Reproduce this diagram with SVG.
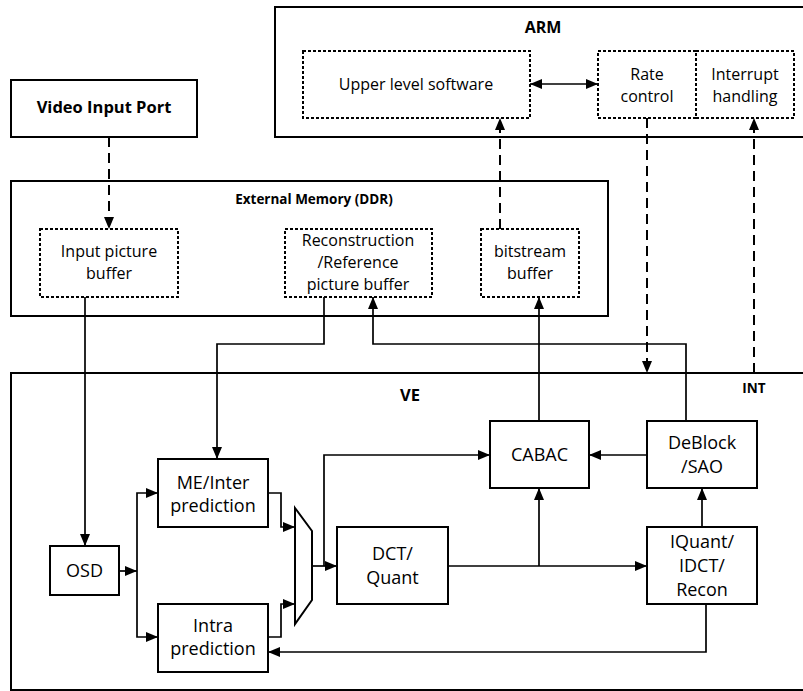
<svg xmlns="http://www.w3.org/2000/svg" width="803" height="691" viewBox="0 0 803 691">
<style>
.box{fill:#fff;stroke:#000;stroke-width:2}
.cont{fill:none;stroke:#000;stroke-width:2}
.dot{fill:#fff;stroke:#000;stroke-width:2;stroke-dasharray:3 2}
.ln{fill:none;stroke:#000;stroke-width:1.7}
.dash{fill:none;stroke:#000;stroke-width:2;stroke-dasharray:10 6}
text{font-family:"Open Sans","Liberation Sans",sans-serif;fill:#000;text-anchor:middle}
.t18{font-size:18px}
.t16{font-size:16px}
.b{font-weight:bold}
</style>
<defs>
<marker id="ah" viewBox="0 0 12 10" refX="12" refY="5" markerWidth="12" markerHeight="10" markerUnits="userSpaceOnUse" orient="auto-start-reverse"><path d="M0,0 L12,5 L0,10 z" fill="#000"/></marker>
</defs>
<rect width="803" height="691" fill="#fff"/>

<g id="containers">
<rect class="cont" x="275" y="7" width="540" height="130"/>
<text class="b" x="543" y="33" font-size="16">ARM</text>
<rect class="cont" x="11" y="181" width="597" height="135"/>
<text class="b" x="314" y="204" font-size="13.5">External Memory (DDR)</text>
<rect class="cont" x="11" y="373" width="804" height="317"/>
<text class="b" x="410" y="401" font-size="16.5">VE</text>
<text class="b" x="754" y="393" font-size="13.5">INT</text>
</g>

<g id="video-input-port">
<rect class="box" x="11" y="80" width="186" height="57"/>
<text class="b" x="104" y="113" font-size="16.5">Video Input Port</text>
</g>

<g id="upper-level-software">
<rect class="dot" x="303" y="51" width="227" height="67"/>
<text class="t16" x="416" y="90">Upper level software</text>
</g>
<g id="rate-control">
<rect class="dot" x="598" y="51" width="98" height="67"/>
<text class="t16" x="647" y="80">Rate</text>
<text class="t16" x="647" y="102">control</text>
</g>
<g id="interrupt-handling">
<rect class="dot" x="696" y="51" width="98" height="67"/>
<text class="t16" x="745" y="80">Interrupt</text>
<text class="t16" x="745" y="102">handling</text>
</g>

<g id="input-picture-buffer">
<rect class="dot" x="40" y="229" width="138" height="68"/>
<text class="t16" x="109" y="257">Input picture</text>
<text class="t16" x="109" y="279">buffer</text>
</g>
<g id="reconstruction-buffer">
<rect class="dot" x="285" y="229" width="147" height="68"/>
<text class="t16" x="358" y="246">Reconstruction</text>
<text class="t16" x="358" y="268">/Reference</text>
<text class="t16" x="358" y="290">picture buffer</text>
</g>
<g id="bitstream-buffer">
<rect class="dot" x="481" y="229" width="98" height="68"/>
<text class="t16" x="530" y="257">bitstream</text>
<text class="t16" x="530" y="279">buffer</text>
</g>

<g id="osd">
<rect class="box" x="50" y="546" width="69" height="49"/>
<text class="t18" x="84.5" y="577">OSD</text>
</g>
<g id="me-inter">
<rect class="box" x="158" y="459" width="110" height="68"/>
<text class="t18" x="213" y="489">ME/Inter</text>
<text class="t18" x="213" y="512">prediction</text>
</g>
<g id="intra">
<rect class="box" x="158" y="604" width="110" height="68"/>
<text class="t18" x="213" y="632">Intra</text>
<text class="t18" x="213" y="655">prediction</text>
</g>
<g id="mux">
<polygon class="box" points="295,508 312,531 312,600 295,624"/>
</g>
<g id="dct-quant">
<rect class="box" x="337" y="527" width="111" height="77"/>
<text class="t18" x="392.5" y="560">DCT/</text>
<text class="t18" x="392.5" y="584">Quant</text>
</g>
<g id="cabac">
<rect class="box" x="490" y="421" width="99" height="67"/>
<text class="t18" x="539.5" y="461">CABAC</text>
</g>
<g id="deblock-sao">
<rect class="box" x="647" y="421" width="110" height="67"/>
<text class="t18" x="702" y="449">DeBlock</text>
<text class="t18" x="702" y="473">/SAO</text>
</g>
<g id="iquant">
<rect class="box" x="647" y="527" width="110" height="77"/>
<text class="t18" x="702" y="548">IQuant/</text>
<text class="t18" x="702" y="572">IDCT/</text>
<text class="t18" x="702" y="596">Recon</text>
</g>

<g id="connectors">
<path class="dash" d="M109,137 V229" marker-end="url(#ah)"/>
<path class="ln" d="M530,84 H598" marker-start="url(#ah)" marker-end="url(#ah)"/>
<path class="dash" d="M500,229 V118" marker-end="url(#ah)"/>
<path class="dash" d="M647,118 V373" marker-end="url(#ah)"/>
<path class="dash" d="M754,373 V118" marker-end="url(#ah)"/>
<path class="ln" d="M85,297 V546" marker-end="url(#ah)"/>
<path class="ln" d="M324,297 V344 H217 V459" marker-end="url(#ah)"/>
<path class="ln" d="M686,421 V344 H373 V297" marker-end="url(#ah)"/>
<path class="ln" d="M539,421 V297" marker-end="url(#ah)"/>
<path class="ln" d="M119,571 H137" marker-end="url(#ah)"/>
<path class="ln" d="M137,571 V493 H158" marker-end="url(#ah)"/>
<path class="ln" d="M137,571 V637 H158" marker-end="url(#ah)"/>
<path class="ln" d="M268,493 H281 V527 H295" marker-end="url(#ah)"/>
<path class="ln" d="M268,637 H281 V604 H295" marker-end="url(#ah)"/>
<path class="ln" d="M312,566 H337" marker-end="url(#ah)"/>
<path class="ln" d="M324,566 V455 H490" marker-end="url(#ah)"/>
<path class="ln" d="M448,566 H647" marker-end="url(#ah)"/>
<path class="ln" d="M539,566 V488" marker-end="url(#ah)"/>
<path class="ln" d="M647,455 H589" marker-end="url(#ah)"/>
<path class="ln" d="M702,527 V488" marker-end="url(#ah)"/>
<path class="ln" d="M706,604 V652 H268" marker-end="url(#ah)"/>
</g>
</svg>
